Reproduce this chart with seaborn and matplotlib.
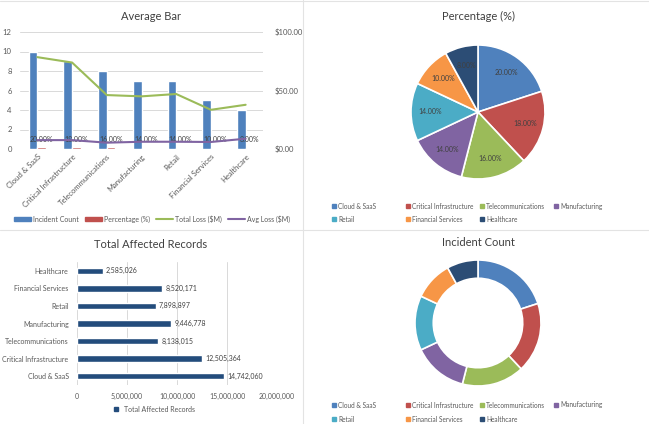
import numpy as np
import pandas as pd
import matplotlib
matplotlib.use("Agg")
import matplotlib.pyplot as plt
from matplotlib.patches import Patch
from matplotlib.lines import Line2D
import seaborn as sns

sns.set_style("white")
plt.rcParams['font.family'] = ['Lato', 'DejaVu Sans']

categories = ["Cloud & SaaS", "Critical Infrastructure", "Telecommunications",
              "Manufacturing", "Retail", "Financial Services", "Healthcare"]
incident_count = [10, 9, 8, 7, 7, 5, 4]
percentage = [0.20, 0.18, 0.16, 0.14, 0.14, 0.10, 0.08]
total_loss = [78.5, 73.9, 46.1, 45.0, 47.0, 33.5, 37.8]
avg_loss = [7.6, 7.6, 5.4, 6.2, 6.2, 6.0, 8.8]
affected_records = [14742060, 12505364, 8138015, 9446778, 7898897, 8520171, 2585026]

slice_colors = ["#4F81BD", "#C0504D", "#9BBB59", "#8064A2", "#4BACC6", "#F79646", "#2C4D75"]
txt = "#595959"
title_c = "#404040"
grid_c = "#D9D9D9"

W, H = 649, 424
fig = plt.figure(figsize=(6.49, 4.24), dpi=100)
fig.patch.set_facecolor("white")


def box(x0, y0, x1, y1):
    # pixel box (top-left origin) -> figure fraction rect
    return [x0 / W, 1 - y1 / H, (x1 - x0) / W, (y1 - y0) / H]


def fx(x):
    return x / W


def fy(y):
    return 1 - y / H


# faint separators between the chart panels
fig.add_artist(Line2D([fx(303), fx(303)], [0, 1], color="#E3E3E3", lw=0.8))
fig.add_artist(Line2D([0, 1], [fy(230), fy(230)], color="#E3E3E3", lw=0.8))
fig.add_artist(Line2D([0, 1], [fy(1), fy(1)], color="#E3E3E3", lw=0.8))

# ---------------- Average Bar (combo chart) ----------------
ax1 = fig.add_axes(box(20, 32, 263, 149))
df_bar = pd.DataFrame({
    "Category": categories * 2,
    "Value": incident_count + percentage,
    "Series": ["Incident Count"] * 7 + ["Percentage (%)"] * 7,
})
sns.barplot(data=df_bar, x="Category", y="Value", hue="Series",
            palette=["#4F81BD", "#C0504D"], width=0.5, ax=ax1, legend=False,
            saturation=1)
ax1.set_ylim(0, 12)
ax1.set_yticks(range(0, 13, 2))
ax1.set_xlim(-0.5, 6.5)
ax1.grid(axis="y", color=grid_c, lw=0.7)
ax1.set_axisbelow(True)
ax1.set_xlabel("")
ax1.set_ylabel("")
ax1.tick_params(axis="y", labelsize=5.5, colors=txt, length=0, pad=6)
ax1.set_xticks(range(7))
ax1.set_xticklabels(categories, rotation=45, ha="right", rotation_mode="anchor",
                    fontsize=5.5, color=txt)
ax1.tick_params(axis="x", length=0, pad=3)
for s in ax1.spines.values():
    s.set_visible(False)
for i, p in enumerate(percentage):
    ax1.text(i + 0.12, 0.95, f"{p * 100:.2f}%", ha="center", va="center",
             fontsize=5, color=title_c)

ax2 = ax1.twinx()
x_pos = np.arange(len(categories))
sns.lineplot(x=x_pos, y=total_loss, color="#9BBB59", lw=1.5, ax=ax2)
sns.lineplot(x=x_pos, y=avg_loss, color="#8064A2", lw=1.5, ax=ax2)
ax2.set_ylim(0, 100)
ax2.set_yticks([0, 50, 100])
ax2.set_yticklabels(["$0.00", "$50.00", "$100.00"])
ax2.tick_params(axis="y", labelsize=5.5, colors=txt, length=0, pad=8)
for s in ax2.spines.values():
    s.set_visible(False)
fig.text(fx(151), fy(16), "Average Bar", ha="center", va="center",
         fontsize=8, color=title_c)
handles = [Patch(color="#4F81BD"), Patch(color="#C0504D"),
           Line2D([], [], color="#9BBB59", lw=1.5), Line2D([], [], color="#8064A2", lw=1.5)]
fig.legend(handles, ["Incident Count", "Percentage (%)", "Total Loss ($M)", "Avg Loss ($M)"],
           loc="center", bbox_to_anchor=(fx(152), fy(219)), ncol=4, frameon=False,
           fontsize=5, labelcolor=txt, handlelength=2.4, handleheight=0.5,
           columnspacing=0.9, handletextpad=0.3)

# ---------------- Total Affected Records ----------------
ax3 = fig.add_axes(box(77, 262, 277, 385))
df_rec = pd.DataFrame({"Category": categories, "Records": affected_records})
sns.barplot(data=df_rec, y="Category", x="Records", orient="h", color="#234C7C",
            width=0.36, ax=ax3, saturation=1,
            order=categories[::-1])
ax3.set_ylim(6.5, -0.5)
ax3.set_xlim(0, 20000000)
ax3.set_xticks(range(0, 20000001, 5000000))
ax3.set_xticklabels([f"{v:,}" for v in range(0, 20000001, 5000000)])
ax3.grid(axis="x", color=grid_c, lw=0.7)
ax3.set_axisbelow(True)
ax3.set_xlabel("")
ax3.set_ylabel("")
ax3.tick_params(axis="both", labelsize=5, colors=txt, length=0)
ax3.tick_params(axis="y", pad=6)
ax3.tick_params(axis="x", pad=6)
for s in ax3.spines.values():
    s.set_visible(False)
for i, cat in enumerate(categories[::-1]):
    v = affected_records[categories.index(cat)]
    ax3.text(v + 300000, i, f"{v:,}", va="center", ha="left", fontsize=5, color=title_c)
fig.text(fx(151), fy(245), "Total Affected Records", ha="center", va="center",
         fontsize=8, color=title_c)
fig.legend([Line2D([], [], marker="s", color="#234C7C", ls="", markersize=2.8)],
           ["Total Affected Records"], loc="center", bbox_to_anchor=(fx(152), fy(409)),
           frameon=False, fontsize=5, labelcolor=txt, handletextpad=0.1)

# ---------------- Percentage (%) pie ----------------
r1 = 67
ax4 = fig.add_axes(box(478 - r1, 112 - r1, 478 + r1, 112 + r1))
ax4.pie([p * 100 for p in percentage], colors=slice_colors, startangle=90,
        counterclock=False, autopct="%.2f%%", pctdistance=0.72, radius=1,
        wedgeprops=dict(edgecolor="white", linewidth=1.2),
        textprops=dict(fontsize=5, color=title_c))
ax4.set_xlim(-1, 1)
ax4.set_ylim(-1, 1)
ax4.set_aspect("equal")
ax4.axis("off")
fig.text(fx(478), fy(16), "Percentage (%)", ha="center", va="center",
         fontsize=8, color=title_c)


def pie_legend(row_y):
    # Excel-style legend: equal column widths, filled row by row
    for i, (cat, c) in enumerate(zip(categories, slice_colors)):
        col, row = i % 4, i // 4
        x = 334 + 74 * col
        y = row_y[row]
        fig.add_artist(Line2D([fx(x)], [fy(y)], marker="s", color=c, ls="",
                              markersize=2.2))
        fig.text(fx(x + 4), fy(y), cat, ha="left", va="center", fontsize=4.7, color=txt)


pie_legend([206, 219])

# ---------------- Incident Count donut ----------------
r2 = 63
ax5 = fig.add_axes(box(478 - r2, 323 - r2, 478 + r2, 323 + r2))
ax5.pie(incident_count, colors=slice_colors, startangle=90, counterclock=False,
        radius=1, wedgeprops=dict(width=0.29, edgecolor="white", linewidth=1.2))
ax5.set_xlim(-1, 1)
ax5.set_ylim(-1, 1)
ax5.set_aspect("equal")
ax5.axis("off")
fig.text(fx(478), fy(242), "Incident Count", ha="center", va="center",
         fontsize=8, color=title_c)
pie_legend([405, 419])

fig.savefig("out.png", dpi=100)
